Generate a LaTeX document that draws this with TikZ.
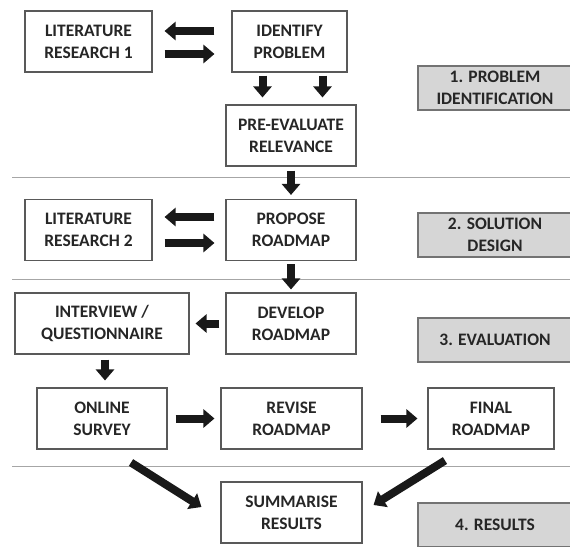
\documentclass[tikz,border=0pt]{standalone}
\usepackage{fontspec}
\setmainfont{Carlito}
\usetikzlibrary{arrows.meta}

\begin{document}
\begin{tikzpicture}[auto, x=1pt, y=1pt, node distance=94pt,
	font=\fontsize{17.5}{22}\selectfont\bfseries,
	stepbox/.style={rectangle,draw=black!65,line width=1.1pt,fill=white,
		text=black!85,align=center,minimum height=61pt,inner sep=2pt},
	phase/.style={rectangle,draw=black!55,line width=1.4pt,fill=black!16,
		text=black!85,align=center,minimum width=154pt,minimum height=44pt,inner sep=1pt},
	flow/.style={line width=8pt,black!90,
		-{Triangle[length=11pt,width=18pt]}},
	sep/.style={black!35,line width=0.8pt}]
	
	\useasboundingbox (0,0) rectangle (570,-546);
	
	% blocks
	\node[stepbox, minimum width=115pt] (ip) at (289.5,-41.5) {IDENTIFY\\PROBLEM};
	\node[stepbox, minimum width=127pt, node distance=201pt] (lr1) [left of=ip] {LITERATURE\\RESEARCH 1};
	\node[stepbox, minimum width=130pt] (pe) [below of=ip, xshift=1.5pt] {PRE-EVALUATE\\RELEVANCE};
	\node[stepbox, minimum width=130pt, node distance=94.5pt] (pr) [below of=pe] {PROPOSE\\ROADMAP};
	\node[stepbox, minimum width=127pt, node distance=202.5pt] (lr2) [left of=pr] {LITERATURE\\RESEARCH 2};
	\node[stepbox, minimum width=130pt, node distance=93.5pt] (dr) [below of=pr] {DEVELOP\\ROADMAP};
	\node[stepbox, minimum width=174pt, node distance=189pt] (iq) [left of=dr] {INTERVIEW /\\QUESTIONNAIRE};
	\node[stepbox, minimum width=130pt, node distance=95pt] (os) [below of=iq] {ONLINE\\SURVEY};
	\node[stepbox, minimum width=141pt, node distance=189.5pt] (rr) [right of=os] {REVISE\\ROADMAP};
	\node[stepbox, minimum width=126pt, node distance=199.5pt] (fr) [right of=rr] {FINAL\\ROADMAP};
	\node[stepbox, minimum width=141pt] (sr) [below of=rr] {SUMMARISE\\RESULTS};
	
	% phases
	\node[phase] (ph1) at (495,-88) {1. PROBLEM\\IDENTIFICATION};
	\node[phase] (ph2) at (495,-235) {2. SOLUTION\\DESIGN};
	\node[phase] (ph3) at (495,-340) {3. EVALUATION};
	\node[phase] (ph4) at (495,-525) {4. RESULTS};
	
	% separators
	\draw[sep] (12,-177) -- (570,-177);
	\draw[sep] (12,-279) -- (570,-279);
	\draw[sep] (12,-466) -- (570,-466);
	
	\path[flow]
	([yshift=10.5pt]ip.west) edge[shorten <=17pt, shorten >=12pt] ([yshift=10.5pt]ip.west -| lr1.east)
	([yshift=-12.5pt]lr1.east |- ip.west) edge[shorten <=12pt, shorten >=17pt] ([yshift=-12.5pt]ip.west)
	([xshift=-27pt]ip.south) edge[shorten <=3pt, shorten >=7pt] ([xshift=-27pt]ip.south |- pe.north)
	([xshift=33pt]ip.south) edge[shorten <=3pt, shorten >=7pt] ([xshift=33pt]ip.south |- pe.north)
	(pe) edge[shorten <=4pt, shorten >=4pt] (pr)
	([yshift=13pt]pr.west) edge[shorten <=11pt, shorten >=12pt] ([yshift=13pt]pr.west -| lr2.east)
	([yshift=-13pt]lr2.east) edge[shorten <=12pt, shorten >=11pt] ([yshift=-13pt]pr.west)
	(pr) edge[shorten <=3pt, shorten >=3pt] (dr)
	(dr) edge[shorten <=6pt, shorten >=6pt] (iq)
	([xshift=3pt]iq.south) edge[shorten <=5pt, shorten >=7pt] ([xshift=3pt]os.north)
	(os) edge[shorten <=8pt, shorten >=6pt] (rr)
	(rr) edge[shorten <=18pt, shorten >=10pt] (fr)
	([shift={(29pt,-13pt)}]os.south) edge ([shift={(-19pt,5.5pt)}]sr.west)
	([shift={(-46pt,-11pt)}]fr.south) edge ([shift={(11pt,7.5pt)}]sr.east);
\end{tikzpicture}
\end{document}
